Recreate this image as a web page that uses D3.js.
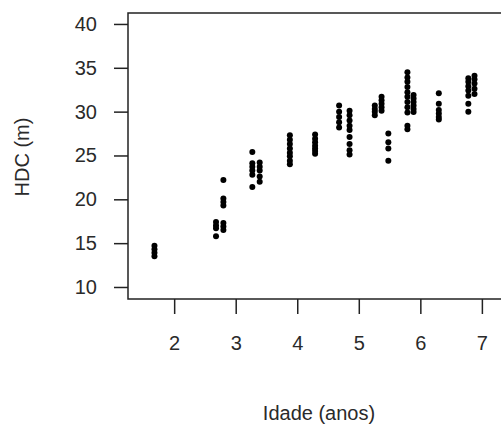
<!DOCTYPE html>
<html>
<head>
<meta charset="utf-8">
<script src="https://cdn.jsdelivr.net/npm/d3@7"></script>
<style>
  html, body { margin: 0; padding: 0; background: #fff; }
  svg { display: block; }
  text { font-family: "Liberation Sans", Arial, sans-serif; }
</style>
</head>
<body>
<svg id="chart" width="501" height="424"></svg>
<script>
// ---- data ----
const columnAges = [1.68, 2.68, 2.80, 3.27, 3.39, 3.88, 4.29, 4.68, 4.85, 5.26, 5.37, 5.48, 5.79, 5.89, 6.30, 6.78, 6.88];
const columnHDC = [
  [14.7, 14.3, 13.9, 13.5],
  [17.4, 17.0, 16.7, 15.8],
  [22.2, 20.1, 19.7, 19.3, 17.3, 16.9, 16.5],
  [25.4, 24.1, 23.7, 23.3, 22.8, 21.4],
  [24.2, 23.7, 23.3, 22.6, 22.0],
  [27.3, 26.8, 26.3, 25.8, 25.3, 24.9, 24.4, 24.0],
  [27.4, 26.9, 26.5, 26.1, 25.8, 25.5, 25.2],
  [30.7, 30.0, 29.4, 28.8, 28.2],
  [30.1, 29.6, 29.0, 28.4, 27.9, 27.1, 26.3, 25.6, 25.1],
  [30.7, 30.3, 30.0, 29.6],
  [31.7, 31.3, 30.9, 30.5, 30.1],
  [27.5, 26.5, 25.8, 24.4],
  [34.5, 33.9, 33.4, 32.8, 32.2, 31.7, 31.1, 30.5, 29.9, 28.4, 28.0],
  [31.9, 31.5, 31.1, 30.7, 30.3, 29.95],
  [32.1, 30.9, 30.2, 29.8, 29.4, 29.1],
  [33.8, 33.4, 32.9, 32.4, 31.8, 30.9, 30.0],
  [34.1, 33.7, 33.2, 32.6, 32.0]
];
const xTicks = [2, 3, 4, 5, 6, 7];
const yTicks = [10, 15, 20, 25, 30, 35, 40];
const xTitle = "Idade (anos)";
const yTitle = "HDC (m)";

// ---- layout ----
const svg = d3.select("#chart");
const mLeft = 128, mTop = 13, mBottom = 299, mRight = 506.5;
const x = d3.scaleLinear().domain([1.25, 7.4]).range([mLeft, mRight]);
const y = d3.scaleLinear().domain([8.63, 41.25]).range([mBottom, mTop]);

const points = [];
columnAges.forEach((a, i) => columnHDC[i].forEach(h => points.push({a, h})));

// points
svg.append("g").selectAll("circle").data(points).join("circle")
  .attr("cx", d => x(d.a)).attr("cy", d => y(d.h))
  .attr("r", 3).attr("fill", "#000");

// box
svg.append("rect")
  .attr("x", mLeft).attr("y", mTop)
  .attr("width", mRight - mLeft).attr("height", mBottom - mTop)
  .attr("fill", "none").attr("stroke", "#222").attr("stroke-width", 1.5);

// x axis
const xAxis = svg.append("g").attr("transform", `translate(0,${mBottom})`)
  .call(d3.axisBottom(x).tickValues(xTicks).tickSize(15).tickPadding(22).tickFormat(d3.format("d")));
xAxis.select(".domain").remove();
xAxis.selectAll("line").attr("stroke", "#222").attr("stroke-width", 1.5);
xAxis.selectAll("text").attr("font-size", 20).attr("fill", "#2a2a2a")
  .attr("font-family", "Liberation Sans, Arial, sans-serif");

// y axis
const yAxis = svg.append("g").attr("transform", `translate(${mLeft},0)`)
  .call(d3.axisLeft(y).tickValues(yTicks).tickSize(14).tickPadding(17).tickFormat(d3.format("d")));
yAxis.select(".domain").remove();
yAxis.selectAll("line").attr("stroke", "#222").attr("stroke-width", 1.5);
yAxis.selectAll("text").attr("font-size", 20).attr("fill", "#2a2a2a")
  .attr("font-family", "Liberation Sans, Arial, sans-serif");

// titles
svg.append("text").attr("x", 319).attr("y", 420)
  .attr("text-anchor", "middle").attr("font-size", 20).attr("fill", "#2a2a2a")
  .text(xTitle);
svg.append("text")
  .attr("transform", "translate(29,157) rotate(-90)")
  .attr("text-anchor", "middle").attr("font-size", 20).attr("fill", "#2a2a2a")
  .text(yTitle);
</script>
</body>
</html>
